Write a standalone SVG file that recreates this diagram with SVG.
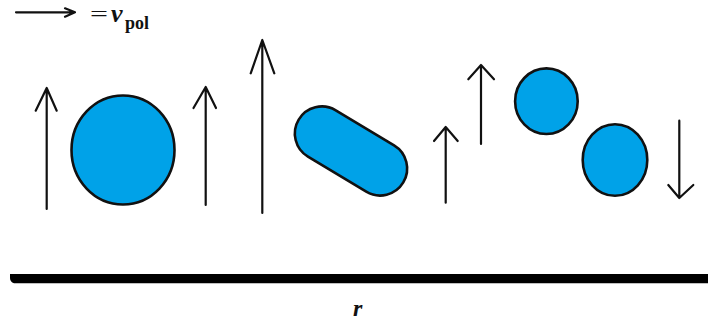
<svg xmlns="http://www.w3.org/2000/svg" width="708" height="322" viewBox="0 0 708 322">
<style>
.arr{fill:none;stroke:#111;stroke-width:2.2;stroke-linecap:round;stroke-linejoin:round}
.cell{fill:#00A2E8;stroke:#111;stroke-width:2.6}
.math{font-family:"Liberation Serif","DejaVu Serif",serif;fill:#111}
</style>
<rect width="708" height="322" fill="#ffffff"/>
<g id="legend">
<path class="arr" stroke-width="1.6" d="M16 12.3H75M65 8.3L75 12.3L65 16.7"/>
<text class="math" x="90" y="21" font-size="22" textLength="18" lengthAdjust="spacingAndGlyphs">=</text>
<text class="math" x="111" y="22" font-size="26" font-weight="bold" font-style="italic">v</text>
<text class="math" x="125" y="29" font-size="18" font-weight="bold">pol</text>
</g>
<g id="circle1"><ellipse class="cell" cx="123" cy="150" rx="51.5" ry="54.5"/></g>
<g id="capsule"><rect class="cell" x="290" y="124" width="122" height="54" rx="27" transform="rotate(31 351 151)"/></g>
<g id="circle2"><ellipse class="cell" cx="546.4" cy="101.2" rx="31.3" ry="32.8"/></g>
<g id="circle3"><ellipse class="cell" cx="615" cy="160" rx="32.3" ry="35.8"/></g>
<g id="connectors">
<path class="arr" d="M46.7 209V88M35.7 110.7L46.7 88L56.7 110.7"/>
<path class="arr" d="M205.7 205V87M193.5 108L205.7 87L216 108"/>
<path class="arr" d="M262.3 213V40M250.7 73.3L262.3 40L274.3 73.3"/>
<path class="arr" d="M445.7 202.7V127M434 141L445.7 127L457.7 141"/>
<path class="arr" d="M481 144V65M468.3 79.3L481 65L494 79.3"/>
<path class="arr" d="M679.3 120.7V198M668.3 185L679.3 198L693.3 185"/>
</g>
<g id="axis">
<path d="M10 274H708V283.3H14Q10 282 10 278Z" fill="#000"/>
<text class="math" x="353" y="316" font-size="24" font-weight="bold" font-style="italic">r</text>
</g>
</svg>
